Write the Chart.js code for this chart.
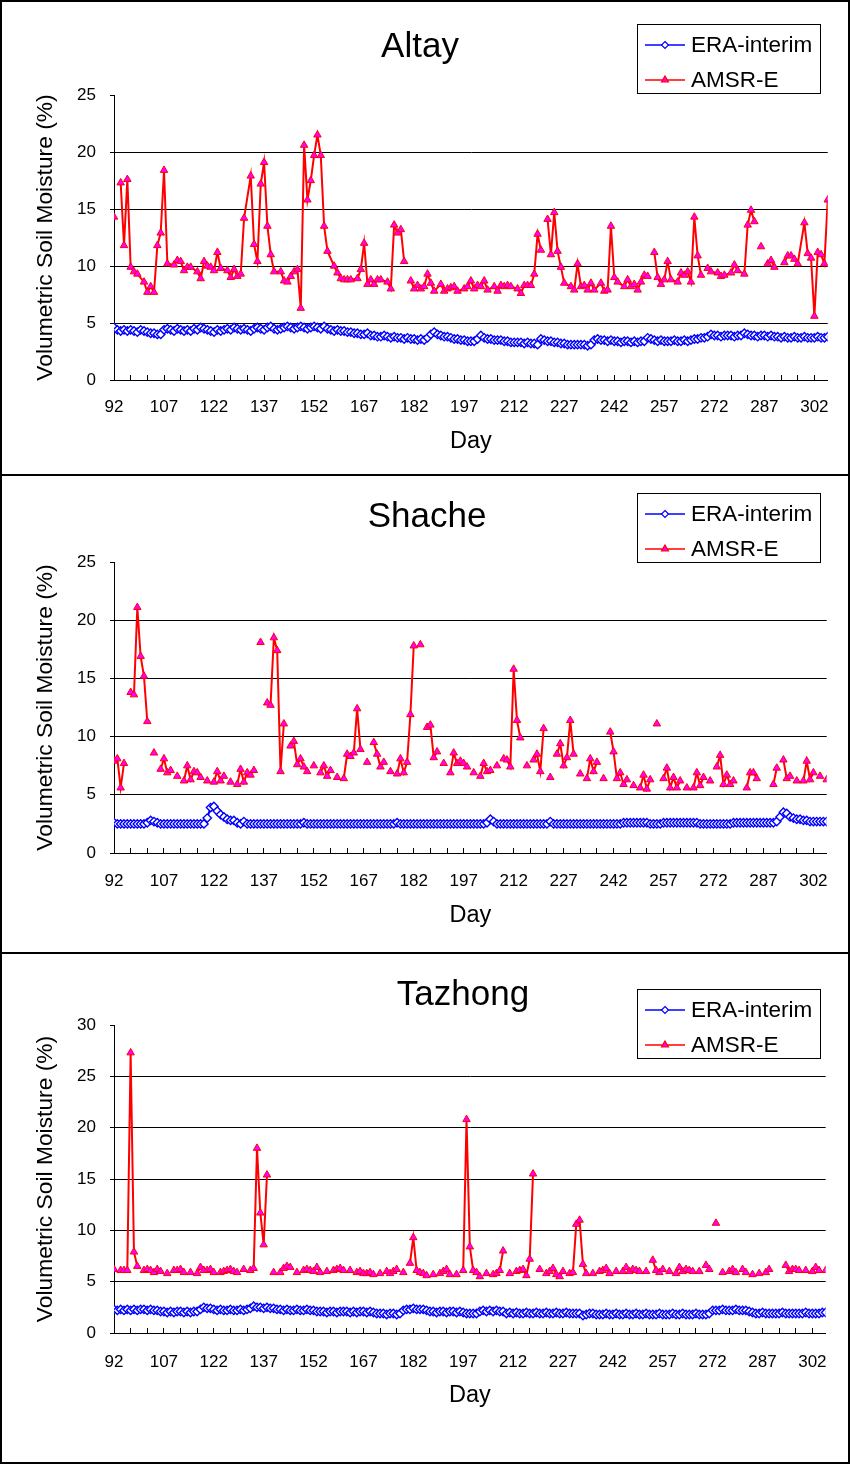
<!DOCTYPE html>
<html><head><meta charset="utf-8">
<script src="https://cdn.jsdelivr.net/npm/chart.js@4.4.1/dist/chart.umd.min.js"></script>
<style>
html,body{margin:0;padding:0;background:#fff;}
body{width:851px;height:1467px;position:relative;overflow:hidden;}
canvas{position:absolute;left:0;}
#frame{position:absolute;left:0;top:0;width:850px;height:1464px;box-sizing:border-box;border:2px solid #000;pointer-events:none;}
.sep{position:absolute;left:0;width:850px;height:2px;background:#000;pointer-events:none;}
</style></head><body>
<canvas id="c1" width="851" height="475" style="top:0px"></canvas>
<canvas id="c2" width="851" height="478" style="top:475px"></canvas>
<canvas id="c3" width="851" height="511" style="top:953px"></canvas>
<div id="frame"></div>
<div class="sep" style="top:474px"></div>
<div class="sep" style="top:952px"></div>
<script>
// ---- data (one value per day, day 92 .. 306) ----
// null = no observation, line broken; _ = no observation, line continues
const _ = undefined;
const firstDay = 92, lastDay = 306;
const dayLabels = [92,107,122,137,152,167,182,197,212,227,242,257,272,287,302];
const seriesNames = ['ERA-interim', 'AMSR-E'];
const panelTitles = ['Altay', 'Shache', 'Tazhong'];

const altayEra = [
4.6,4.4,4.3,4.4,4.3,4.4,4.3,4.2,4.4,4.3,
4.2,4.1,4.1,4.0,4.0,4.4,4.5,4.4,4.3,4.5,
4.4,4.3,4.4,4.3,4.5,4.4,4.6,4.5,4.4,4.3,
4.2,4.4,4.3,4.4,4.5,4.4,4.6,4.5,4.4,4.5,
4.4,4.3,4.5,4.6,4.5,4.4,4.6,4.7,4.5,4.4,
4.5,4.6,4.7,4.6,4.5,4.6,4.7,4.6,4.5,4.6,
4.7,4.6,4.5,4.7,4.5,4.4,4.3,4.4,4.3,4.3,
4.2,4.2,4.1,4.1,4.0,4.0,4.1,3.9,3.9,3.8,
3.8,3.9,3.8,3.7,3.8,3.7,3.7,3.6,3.7,3.6,
3.6,3.5,3.6,3.5,3.7,4.0,4.2,4.0,3.9,3.8,
3.8,3.7,3.6,3.6,3.5,3.5,3.4,3.4,3.4,3.6,
3.9,3.7,3.6,3.6,3.5,3.5,3.5,3.4,3.4,3.3,
3.3,3.3,3.3,3.2,3.3,3.2,3.2,3.1,3.6,3.5,
3.4,3.4,3.3,3.3,3.2,3.2,3.1,3.1,3.1,3.1,
3.1,3.1,3.0,3.1,3.5,3.6,3.5,3.5,3.4,3.5,
3.4,3.4,3.3,3.4,3.4,3.3,3.4,3.3,3.4,3.4,
3.7,3.6,3.5,3.4,3.5,3.4,3.4,3.4,3.5,3.4,
3.4,3.5,3.4,3.5,3.6,3.6,3.7,3.7,3.8,4.0,
3.9,3.9,3.8,3.9,3.9,3.9,3.8,3.9,3.9,4.1,
4.0,3.9,3.9,3.8,3.9,3.9,3.8,3.9,3.8,3.8,
3.7,3.8,3.7,3.7,3.8,3.7,3.7,3.8,3.7,3.7,
3.7,3.8,3.7,3.7,3.8];
const altayAmsr = [
14.3,null,17.3,11.8,17.6,9.9,9.5,9.3,_,8.6,
7.7,8.2,7.7,11.8,12.9,18.4,10.2,_,10.1,10.5,
10.4,9.6,9.9,9.9,_,9.5,8.9,10.4,10.0,9.9,
9.6,11.2,9.8,_,9.6,9.0,9.7,9.1,9.3,14.2,
_,17.9,11.9,10.4,17.2,19.1,13.5,11.0,9.5,_,
9.5,8.7,8.6,9.1,9.5,9.7,6.3,20.6,15.8,17.5,
19.7,21.5,19.7,13.5,11.3,_,10.0,9.4,8.9,8.8,
8.8,8.8,_,8.9,9.7,12.0,8.4,8.8,8.4,8.8,
8.8,_,8.6,8.0,13.6,12.9,13.2,10.4,null,8.7,
8.0,8.3,8.0,8.2,9.3,8.5,7.8,_,8.4,7.8,
8.0,8.1,8.2,7.8,_,8.0,8.2,8.7,8.0,8.3,
8.2,8.7,7.9,_,8.2,7.8,8.3,8.2,8.3,8.2,
_,8.0,7.6,8.3,8.3,8.3,9.3,12.8,11.4,null,
14.1,11.0,14.7,11.3,9.9,8.5,_,8.2,7.9,10.2,
8.2,8.3,7.9,8.5,7.9,_,8.5,7.8,7.9,13.5,
9.0,8.6,_,8.2,8.8,8.2,8.4,7.9,8.6,9.2,
9.1,null,11.2,9.0,8.4,8.8,10.4,8.8,_,8.6,
9.4,9.2,9.5,8.6,14.3,10.9,9.2,null,9.8,9.5,
_,9.4,9.1,9.2,_,9.4,10.1,9.6,_,9.3,
13.6,14.9,13.9,null,11.7,null,10.2,10.5,9.9,null,
null,10.3,10.9,10.9,10.6,10.2,_,13.8,11.1,10.7,
5.6,11.2,11.0,10.2,15.8];

const shacheEra = [
2.6,2.5,2.5,2.5,2.5,2.5,2.5,2.5,2.5,2.5,
2.6,2.8,2.7,2.6,2.5,2.5,2.5,2.5,2.5,2.5,
2.5,2.5,2.5,2.5,2.5,2.5,2.5,2.5,3.0,3.9,
4.0,3.6,3.3,3.1,2.9,2.8,2.8,2.6,2.5,2.7,
2.5,2.5,2.5,2.5,2.5,2.5,2.5,2.5,2.5,2.5,
2.5,2.5,2.5,2.5,2.5,2.5,2.5,2.6,2.5,2.5,
2.5,2.5,2.5,2.5,2.5,2.5,2.5,2.5,2.5,2.5,
2.5,2.5,2.5,2.5,2.5,2.5,2.5,2.5,2.5,2.5,
2.5,2.5,2.5,2.5,2.5,2.6,2.5,2.5,2.5,2.5,
2.5,2.5,2.5,2.5,2.5,2.5,2.5,2.5,2.5,2.5,
2.5,2.5,2.5,2.5,2.5,2.5,2.5,2.5,2.5,2.5,
2.5,2.5,2.6,2.9,2.7,2.5,2.5,2.5,2.5,2.5,
2.5,2.5,2.5,2.5,2.5,2.5,2.5,2.5,2.5,2.5,
2.5,2.7,2.5,2.5,2.5,2.5,2.5,2.5,2.5,2.5,
2.5,2.5,2.5,2.5,2.5,2.5,2.5,2.5,2.5,2.5,
2.5,2.5,2.5,2.6,2.6,2.6,2.6,2.6,2.6,2.6,
2.6,2.5,2.5,2.5,2.5,2.6,2.6,2.6,2.6,2.6,
2.6,2.6,2.6,2.6,2.6,2.6,2.5,2.5,2.5,2.5,
2.5,2.5,2.5,2.5,2.5,2.5,2.6,2.6,2.6,2.6,
2.6,2.6,2.6,2.6,2.6,2.6,2.6,2.6,2.6,2.7,
3.1,3.5,3.4,3.1,3.0,2.9,2.9,2.8,2.8,2.7,
2.7,2.7,2.7,2.7,2.7];
const shacheAmsr = [
7.9,8.1,5.6,7.7,null,13.8,13.6,21.1,16.9,15.2,
11.3,null,8.6,null,7.2,8.1,6.9,7.1,null,6.6,
null,6.2,7.5,6.3,7.0,6.9,6.5,null,6.2,null,
6.1,7.0,6.2,6.6,null,6.1,null,5.9,7.2,6.1,
6.9,6.7,7.1,null,18.1,null,12.9,12.7,18.5,17.4,
7.0,11.1,null,9.2,9.6,7.6,8.1,7.4,7.0,null,
7.5,null,6.9,7.5,6.6,7.1,null,6.5,null,6.4,
8.5,8.3,8.6,12.4,8.9,null,7.8,null,9.5,8.5,
7.4,7.8,null,7.0,null,6.8,8.1,6.9,7.8,11.9,
17.8,null,17.9,null,10.8,11.0,8.2,8.7,null,7.7,
null,6.9,8.6,7.7,7.9,7.7,7.4,null,6.9,null,
6.6,7.7,7.0,7.1,null,7.5,null,8.1,8.0,7.4,
15.8,11.4,9.9,null,7.5,null,8.0,8.5,7.0,10.7,
null,6.5,null,8.5,9.4,7.5,8.2,11.4,8.5,null,
6.8,null,6.4,8.1,7.0,7.8,null,6.4,null,10.4,
8.7,6.4,6.9,5.9,6.3,null,5.8,null,5.6,6.7,
5.5,6.3,null,11.1,null,6.4,7.3,5.6,6.5,5.6,
6.2,null,5.6,null,5.6,6.9,5.8,6.5,null,6.2,
null,7.4,8.4,5.9,6.7,5.9,6.2,null,null,null,
5.6,6.9,6.9,6.4,null,null,null,null,5.9,7.3,
null,8.0,6.4,6.6,null,6.2,null,6.2,7.9,6.3,
6.9,null,6.6,null,6.3];

const tazhongEra = [
2.3,2.2,2.3,2.2,2.3,2.2,2.3,2.2,2.3,2.3,
2.2,2.3,2.2,2.2,2.1,2.1,2.0,2.1,2.0,2.1,
2.1,2.0,2.1,2.0,2.1,2.1,2.3,2.5,2.4,2.4,
2.3,2.2,2.3,2.2,2.2,2.3,2.2,2.2,2.3,2.2,
2.3,2.4,2.6,2.5,2.5,2.4,2.5,2.4,2.4,2.3,
2.3,2.2,2.3,2.2,2.2,2.3,2.2,2.2,2.3,2.2,
2.2,2.1,2.1,2.1,2.0,2.1,2.1,2.0,2.1,2.1,
2.1,2.0,2.1,2.0,2.1,2.1,2.0,2.1,2.0,1.9,
1.9,1.9,1.8,1.9,1.9,1.8,1.9,2.2,2.3,2.3,
2.4,2.3,2.3,2.3,2.2,2.1,2.1,2.0,2.1,2.1,
2.0,2.1,2.1,2.0,2.1,2.0,1.9,1.9,1.9,1.9,
2.1,2.2,2.1,2.2,2.1,2.2,2.1,2.1,1.9,2.0,
1.9,2.0,1.9,1.9,2.0,1.9,1.9,2.0,1.9,1.9,
2.0,1.9,1.9,2.0,1.9,1.9,2.0,1.9,1.9,1.9,
1.9,1.7,1.8,1.9,1.9,1.8,1.8,1.8,1.9,1.8,
1.8,1.9,1.8,1.8,1.9,1.8,1.8,1.9,1.8,1.8,
1.9,1.8,1.8,1.8,1.9,1.8,1.8,1.8,1.9,1.8,
1.8,1.9,1.8,1.8,1.8,1.9,1.8,1.8,1.8,1.9,
2.2,2.2,2.2,2.3,2.2,2.2,2.2,2.3,2.2,2.2,
2.2,2.1,2.0,1.9,1.9,2.0,1.9,1.9,1.9,1.9,
1.9,2.0,1.9,1.9,1.9,1.9,1.9,1.9,2.0,1.9,
1.9,1.9,1.9,2.0,2.0];
const tazhongAmsr = [
6.2,null,6.1,6.1,6.1,27.3,7.9,6.5,null,6.1,
6.2,6.1,5.9,6.2,6.0,null,5.8,null,6.1,6.1,
6.2,5.9,null,5.9,null,5.8,6.4,6.1,6.1,6.2,
5.9,null,5.9,6.0,6.1,6.2,6.0,5.9,null,6.2,
null,6.1,6.3,18.0,11.7,8.6,15.4,null,5.9,null,
5.9,6.3,6.5,6.4,null,5.9,null,6.1,6.2,6.1,
6.0,6.4,5.9,null,6.0,null,6.1,6.2,6.3,6.1,
null,6.1,null,5.9,6.0,5.8,5.8,5.9,5.7,null,
5.8,null,6.0,5.8,6.0,6.2,null,5.9,null,6.8,
9.3,6.1,5.9,5.8,5.6,null,5.7,null,5.8,6.0,
6.2,5.7,null,5.7,null,6.1,20.8,8.4,6.1,5.9,
5.5,null,5.8,null,5.7,5.8,6.1,8.0,null,5.8,
null,6.0,6.1,6.2,5.6,7.2,15.5,null,6.2,null,
5.8,6.0,6.3,5.7,5.5,6.0,null,5.8,5.9,10.6,
11.0,6.7,5.8,null,5.8,null,6.0,6.1,6.3,5.8,
null,6.0,null,6.0,6.4,6.0,6.2,6.1,6.0,null,
6.0,null,7.1,6.1,5.9,6.2,null,6.0,null,5.8,
6.4,6.0,6.2,6.1,6.0,null,6.0,null,6.6,6.2,
null,10.7,null,5.9,null,6.0,6.2,5.9,null,6.2,
5.9,null,5.7,null,5.8,null,5.9,6.2,null,null,
null,null,6.6,6.0,6.2,6.2,6.1,null,6.1,null,
6.0,6.4,6.1,null,6.1];

// ---- rendering ----
const FONT = "'Liberation Sans', Arial, Helvetica, sans-serif";
Chart.defaults.font.family = FONT;
Chart.defaults.color = '#000';

function toPoints(vals) {
  return vals.map((v, i) => ({ x: firstDay + i, y: v })).filter(p => p.y !== undefined);
}

// places the chart title centred on a chosen x position
const titleShift = {
  id: 'titleShift',
  afterLayout(chart, args, o) {
    const tb = chart.titleBlock;
    if (!tb || o.cx == null) return;
    const half = (tb.right - tb.left) / 2;
    tb.left = o.cx - half;
    tb.right = o.cx + half;
  }
};

const boxLegend = {
  id: 'boxLegend',
  afterDraw(chart, args, o) {
    const ctx = chart.ctx;
    ctx.save();
    ctx.fillStyle = '#fff';
    ctx.fillRect(o.x, o.y, o.w, o.h);
    ctx.strokeStyle = '#000';
    ctx.lineWidth = 1;
    ctx.strokeRect(o.x + 0.5, o.y + 0.5, o.w, o.h);
    chart.data.datasets.forEach((ds, i) => {
      const cy = o.y + o.rows[i];
      const x0 = o.x + 8, x1 = o.x + 48, mx = o.x + 28;
      ctx.strokeStyle = ds.borderColor;
      ctx.lineWidth = 1.5;
      ctx.beginPath(); ctx.moveTo(x0, cy); ctx.lineTo(x1, cy); ctx.stroke();
      ctx.fillStyle = ds.pointBackgroundColor;
      ctx.strokeStyle = ds.pointBorderColor;
      ctx.lineWidth = 1.2;
      ctx.beginPath();
      if (ds.pointStyle === 'rectRot') {
        const r = 3.5;
        ctx.moveTo(mx, cy - r); ctx.lineTo(mx + r, cy); ctx.lineTo(mx, cy + r); ctx.lineTo(mx - r, cy);
      } else {
        const r = 4;
        ctx.moveTo(mx, cy - r); ctx.lineTo(mx + r * 0.866, cy + r * 0.5); ctx.lineTo(mx - r * 0.866, cy + r * 0.5);
      }
      ctx.closePath(); ctx.fill(); ctx.stroke();
      ctx.fillStyle = '#000';
      ctx.font = '22.5px ' + FONT;
      ctx.textBaseline = 'middle';
      ctx.textAlign = 'left';
      ctx.fillText(ds.label, o.x + 54, cy + 1);
    });
    ctx.restore();
  }
};

function build(id, cfg) {
  return new Chart(document.getElementById(id), {
    type: 'line',
    data: {
      datasets: [
        { label: seriesNames[0], data: toPoints(cfg.era), borderColor: '#0000FF', borderWidth: 2,
          pointStyle: 'rectRot', pointRadius: 4.2, pointBackgroundColor: '#FFFFFF',
          pointBorderColor: '#0000FF', pointBorderWidth: 1.4, tension: 0, order: 2 },
        { label: seriesNames[1], data: toPoints(cfg.amsr), borderColor: '#FF0000', borderWidth: 2,
          pointStyle: 'triangle', pointRadius: 4.3, pointBackgroundColor: '#FF00FF',
          pointBorderColor: '#FF0000', pointBorderWidth: 1, tension: 0, spanGaps: false, order: 1 }
      ]
    },
    options: {
      responsive: false,
      animation: false,
      events: [],
      layout: { padding: { left: 12, right: 23, top: 0, bottom: 0 } },
      plugins: {
        legend: { display: false },
        tooltip: { enabled: false },
        title: { display: true, text: cfg.title, color: '#000',
                 font: { size: 35, weight: 'normal', family: FONT },
                 padding: { top: cfg.titleTop, bottom: cfg.titleBottom } },
        titleShift: { cx: cfg.titleX },
        boxLegend: cfg.legend
      },
      scales: {
        x: {
          type: 'linear', min: firstDay, max: lastDay,
          afterBuildTicks: s => {
            const t = [];
            for (let d = firstDay; d <= lastDay; d += 5) t.push({ value: d });
            s.ticks = t;
          },
          afterFit: s => { s.height = cfg.xHeight; },
          ticks: { autoSkip: false, maxRotation: 0, minRotation: 0, padding: cfg.xPad,
                   font: { size: 17 }, color: '#000',
                   callback: v => dayLabels.includes(v) ? String(v) : '' },
          grid: { drawOnChartArea: false, drawTicks: true, tickLength: -5, color: '#000', lineWidth: 1 },
          border: { color: '#000', width: 1 },
          title: { display: true, text: 'Day', color: '#000', font: { size: 23.5 },
                   padding: { top: 0, bottom: cfg.dayPad } }
        },
        y: {
          min: 0, max: cfg.ymax,
          afterFit: s => { s.width = 102; },
          ticks: { stepSize: 5, padding: 14, font: { size: 17 }, color: '#000' },
          grid: { color: c => (c.tick && c.tick.value === cfg.ymax) ? 'rgba(0,0,0,0)' : '#000',
                  tickColor: '#000', tickLength: 4, lineWidth: 1 },
          border: { color: '#000', width: 1 },
          title: { display: true, text: 'Volumetric Soil Moisture (%)', color: '#000',
                   font: { size: 22.8 }, padding: { top: 20, bottom: 0 } }
        }
      }
    },
    plugins: [titleShift, boxLegend]
  });
}

build('c1', { title: panelTitles[0], titleX: 420, era: altayEra, amsr: altayAmsr, ymax: 25,
  titleTop: 26, titleBottom: 27, xHeight: 95, xPad: 22, dayPad: 19,
  legend: { x: 637, y: 24, w: 183, h: 69, rows: [21, 56] } });
build('c2', { title: panelTitles[1], titleX: 427, era: shacheEra, amsr: shacheAmsr, ymax: 25,
  titleTop: 21, titleBottom: 24, xHeight: 100, xPad: 23, dayPad: 23,
  legend: { x: 637, y: 18, w: 183, h: 69, rows: [21, 56] } });
build('c3', { title: panelTitles[2], titleX: 463, era: tazhongEra, amsr: tazhongAmsr, ymax: 30,
  titleTop: 21, titleBottom: 9, xHeight: 131, xPad: 24, dayPad: 54,
  legend: { x: 637, y: 36, w: 183, h: 69, rows: [21, 56] } });
</script>
</body></html>
